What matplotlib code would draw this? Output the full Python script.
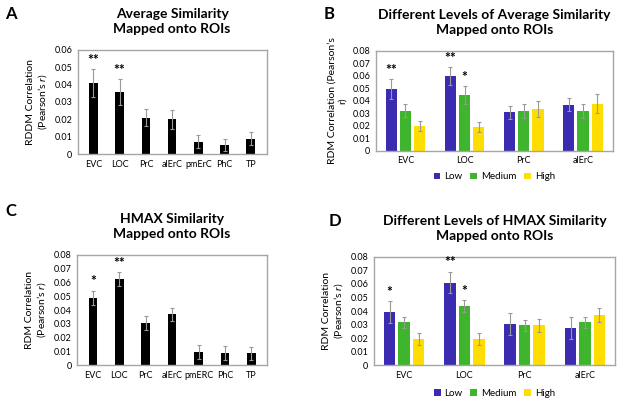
import numpy as np
import matplotlib.pyplot as plt
from matplotlib.ticker import FuncFormatter

plt.rcParams['font.family'] = ['Lato', 'DejaVu Sans']
plt.rcParams['mathtext.fontset'] = 'custom'
plt.rcParams['mathtext.it'] = 'Lato:italic'
plt.rcParams['mathtext.rm'] = 'Lato'

# Painel A - similaridade media
rois_a = ['EVC', 'LOC', 'PrC', 'alErC', 'pmErC', 'PhC', 'TP']
media_a = [0.041, 0.0355, 0.021, 0.020, 0.007, 0.005, 0.0088]
erro_a = [0.008, 0.0075, 0.005, 0.0054, 0.0037, 0.0035, 0.0037]
estrelas_a = ['**', '**', '', '', '', '', '']

# Painel C - similaridade HMAX
rois_c = ['EVC', 'LOC', 'PrC', 'alErC', 'pmERC', 'PhC', 'TP']
media_c = [0.049, 0.0623, 0.0308, 0.0368, 0.0097, 0.0087, 0.0085]
erro_c = [0.005, 0.005, 0.005, 0.005, 0.005, 0.005, 0.005]
estrelas_c = ['*', '**', '', '', '', '', '']

# Paineis B e D - niveis de similaridade
rois_bd = ['EVC', 'LOC', 'PrC', 'alErC']
niveis = ['Low', 'Medium', 'High']
cores = ['#3a2bb0', '#3fb52d', '#ffdd00']

low_b = [0.0492, 0.0598, 0.0308, 0.037]
med_b = [0.0322, 0.0447, 0.0319, 0.0316]
high_b = [0.020, 0.0194, 0.0332, 0.0375]
err_low_b = [0.008, 0.007, 0.005, 0.005]
err_med_b = [0.0053, 0.0074, 0.0056, 0.0056]
err_high_b = [0.004, 0.004, 0.0064, 0.0075]
est_low_b = ['**', '**', '', '']
est_med_b = ['', '*', '', '']
est_high_b = ['', '', '', '']

low_d = [0.0395, 0.0611, 0.0303, 0.0273]
med_d = [0.0316, 0.0437, 0.0293, 0.0316]
high_d = [0.0194, 0.0196, 0.0293, 0.037]
err_low_d = [0.008, 0.008, 0.008, 0.008]
err_med_d = [0.004, 0.0045, 0.004, 0.004]
err_high_d = [0.0045, 0.0045, 0.0047, 0.005]
est_low_d = ['*', '**', '', '']
est_med_d = ['', '*', '', '']
est_high_d = ['', '', '', '']

cinza = '#a6a6a6'
fmt = FuncFormatter(lambda v, p: '0' if abs(v) < 1e-9 else '%.2f' % v)


def estilo(ax, ymax, ylabel):
    ax.set_ylim(0, ymax)
    ax.set_yticks(np.arange(0, ymax + 1e-9, 0.01))
    ax.yaxis.set_major_formatter(fmt)
    ax.tick_params(length=0, labelsize=6.5, pad=4)
    for s in ax.spines.values():
        s.set_color(cinza)
        s.set_linewidth(1.0)
    ax.set_ylabel(ylabel, fontsize=7.5, labelpad=4, linespacing=1.1)


def painel_simples(ax, rois, vals, errs, stars, ymax, ylabel, titulo):
    x = np.arange(len(rois))
    ax.bar(x, vals, width=0.33, color='black', yerr=errs,
           error_kw=dict(ecolor='#999999', elinewidth=0.8, capsize=1.5, capthick=0.8))
    for xi, v, e, s in zip(x, vals, errs, stars):
        if s:
            ax.text(xi, v + e + ymax * 0.03, s, ha='center', va='bottom',
                    fontsize=10, fontweight='bold')
    ax.set_xticks(x)
    ax.set_xticklabels(rois)
    ax.set_xlim(-0.6, len(rois) - 0.4)
    estilo(ax, ymax, ylabel)
    ax.set_title(titulo, fontsize=10, fontweight='bold', pad=12, linespacing=1.3)


def painel_niveis(ax, vals, errs, stars, ymax, ylabel, titulo):
    x = np.arange(len(rois_bd))
    desloc = [-0.24, 0, 0.24]
    for i in range(3):
        ax.bar(x + desloc[i], vals[i], width=0.19, color=cores[i], label=niveis[i],
               yerr=errs[i],
               error_kw=dict(ecolor='#999999', elinewidth=0.8, capsize=1.5, capthick=0.8))
        for xi, v, e, s in zip(x + desloc[i], vals[i], errs[i], stars[i]):
            if s:
                ax.text(xi, v + e + ymax * 0.03, s, ha='center', va='bottom',
                        fontsize=10, fontweight='bold')
    ax.set_xticks(x)
    ax.set_xticklabels(rois_bd)
    ax.set_xlim(-0.5, len(rois_bd) - 0.5)
    estilo(ax, ymax, ylabel)
    ax.set_title(titulo, fontsize=10, fontweight='bold', pad=12, linespacing=1.3)
    ax.legend(loc='center', bbox_to_anchor=(0.5, -0.26), ncol=3, frameon=False,
              fontsize=7, handlelength=0.7, handleheight=0.7, handletextpad=0.4,
              columnspacing=0.8, borderpad=0.1)


fig = plt.figure(figsize=(6.17, 3.99), dpi=100)

axA = fig.add_axes([0.126, 0.614, 0.306, 0.261])
painel_simples(axA, rois_a, media_a, erro_a, estrelas_a, 0.06,
               'RDDM Correlation\n(Pearson\u2019s $r$)',
               'Average Similarity\nMapped onto ROIs')

axB = fig.add_axes([0.609, 0.622, 0.384, 0.251])
painel_niveis(axB, [low_b, med_b, high_b], [err_low_b, err_med_b, err_high_b],
              [est_low_b, est_med_b, est_high_b], 0.08,
              'RDM Correlation (Pearson\u2019s\nr)',
              'Different Levels of Average Similarity\nMapped onto ROIs')

axC = fig.add_axes([0.125, 0.085, 0.308, 0.276])
painel_simples(axC, rois_c, media_c, erro_c, estrelas_c, 0.08,
               'RDM Correlation\n(Pearson\u2019s $r$)',
               'HMAX Similarity\nMapped onto ROIs')

axD = fig.add_axes([0.606, 0.085, 0.391, 0.271])
painel_niveis(axD, [low_d, med_d, high_d], [err_low_d, err_med_d, err_high_d],
              [est_low_d, est_med_d, est_high_d], 0.08,
              'RDM Correlation\n(Pearson\u2019s $r$)',
              'Different Levels of HMAX Similarity\nMapped onto ROIs')

# letras dos paineis
for txt, (xp, yp) in zip('ABCD', [(0.008, 0.985), (0.525, 0.985), (0.008, 0.49), (0.533, 0.465)]):
    fig.text(xp, yp, txt, fontsize=12, fontweight='bold', va='top', ha='left')

fig.savefig('out.png', dpi=100)
